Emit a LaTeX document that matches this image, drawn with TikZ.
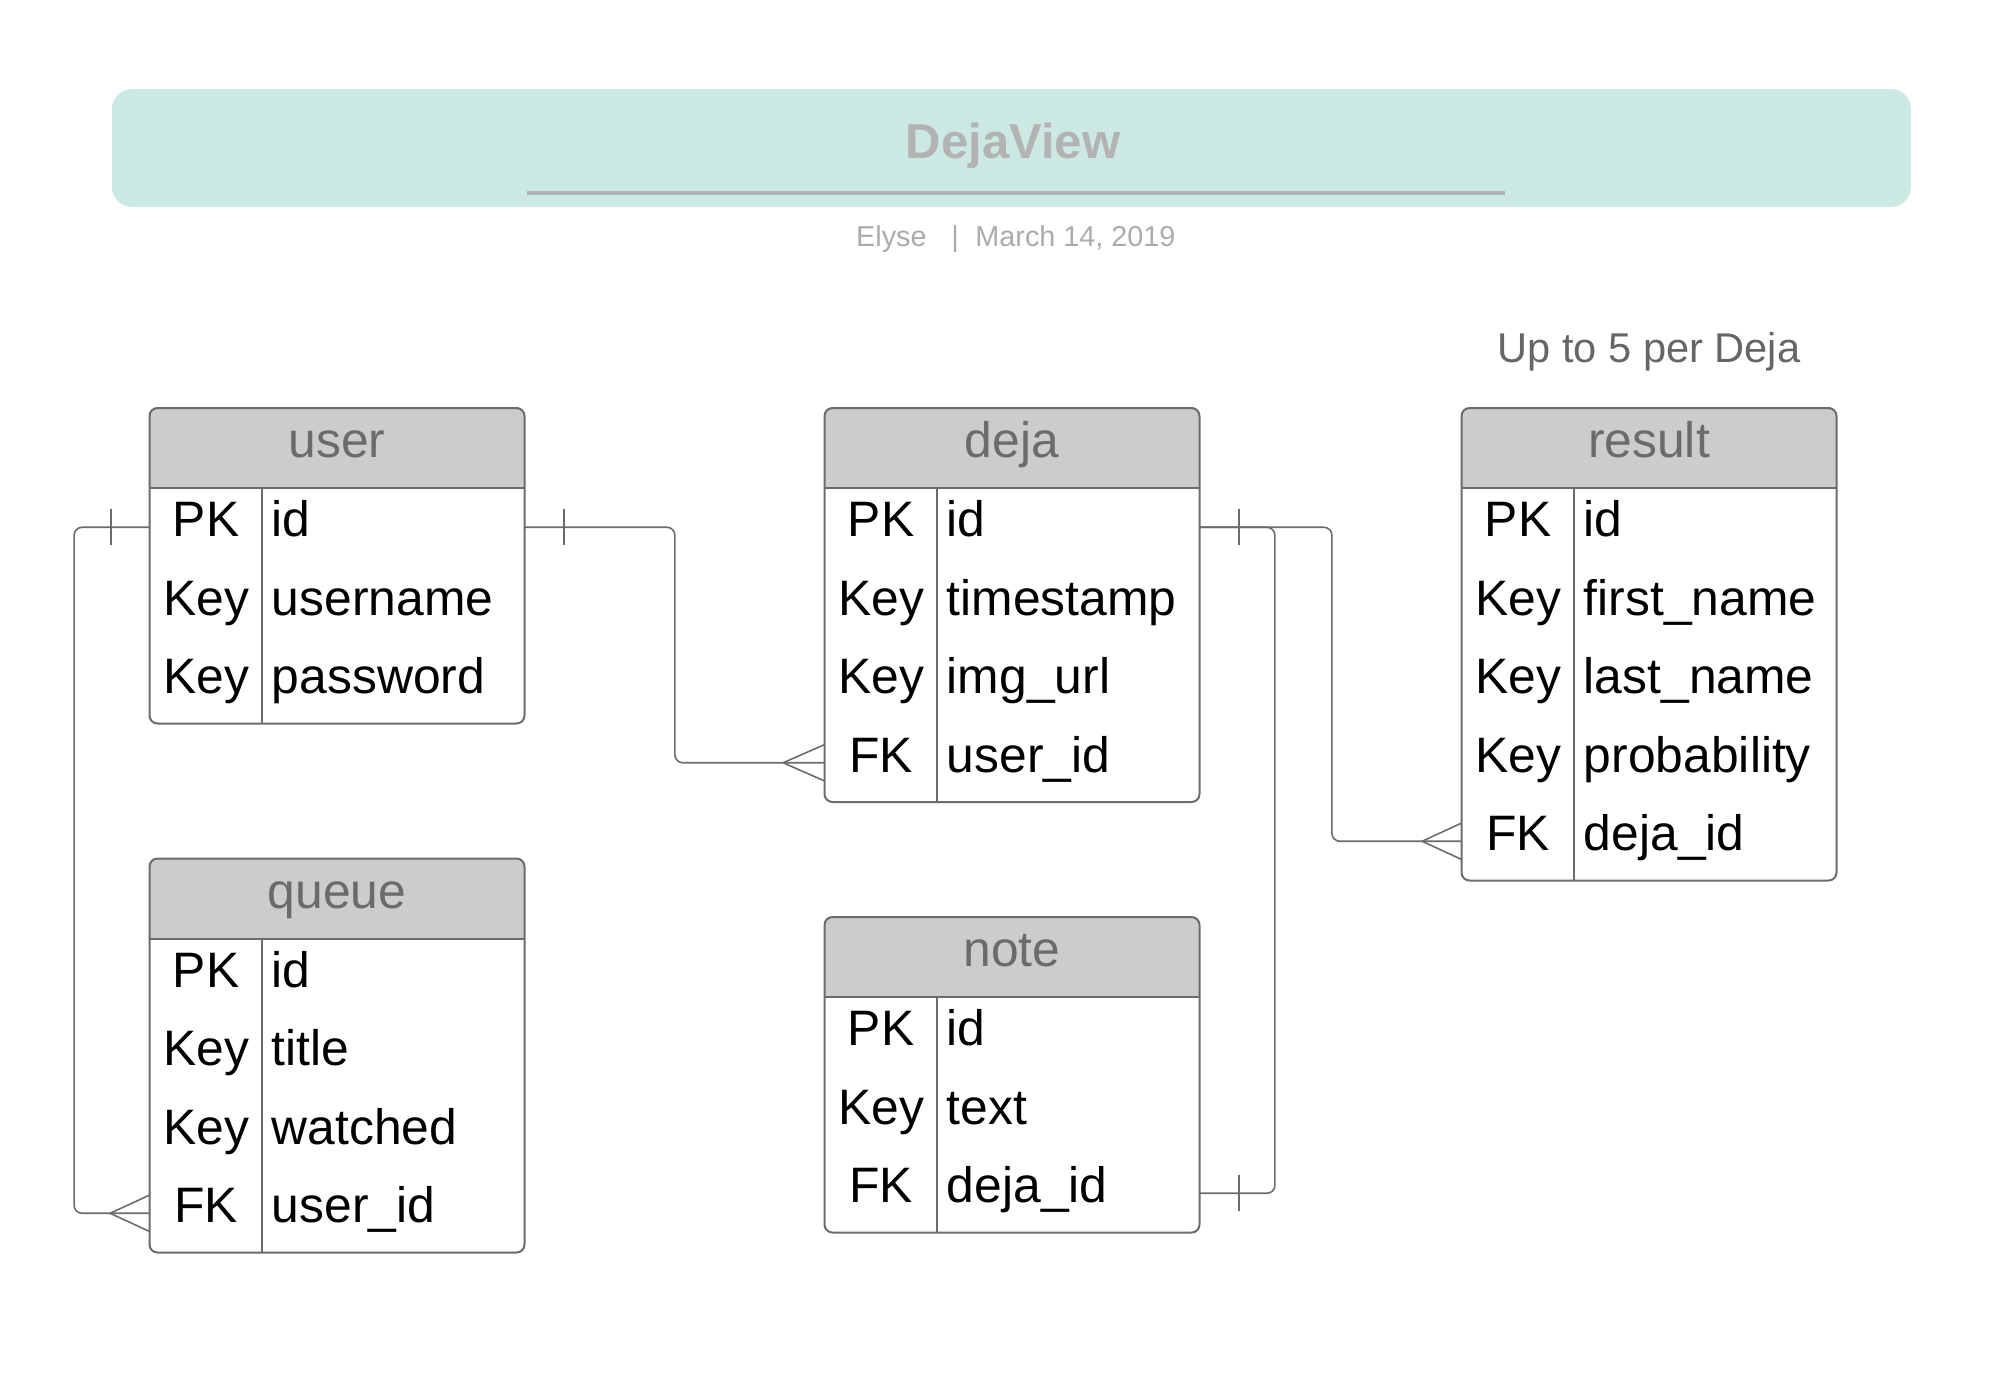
\documentclass[tikz,border=0pt]{standalone}
\usepackage{fontspec}
\setmainfont{Liberation Sans}
\usetikzlibrary{calc}
\definecolor{band}{HTML}{CBE9E2}
\definecolor{hdr}{HTML}{CCCCCC}
\definecolor{edge}{HTML}{6B6B6B}
\definecolor{titlegray}{HTML}{B3B3B3}
\definecolor{subgray}{HTML}{ABABAB}
\definecolor{notegray}{HTML}{666666}
\tikzset{
  tbl/.style={draw=edge, line width=1pt, rounded corners=4pt},
  tblline/.style={draw=edge, line width=1pt},
  conn/.style={draw=edge, line width=0.8pt},
  rowbox/.style={minimum width=187.5pt, minimum height=39.25pt, inner sep=0pt, draw=none},
  keytxt/.style={anchor=base, inner sep=0pt, font=\fontsize{24.9}{29}\selectfont, text=black},
  valtxt/.style={anchor=base west, inner sep=0pt, font=\fontsize{24.9}{29}\selectfont, text=black},
  hdrtxt/.style={anchor=base, inner sep=0pt, font=\fontsize{24.9}{29}\selectfont, text=edge},
}
\newcommand{\ertab}[5]{%
  \foreach [count=\i] \k/\v in {#5} {
    \pgfmathsetmacro{\rc}{#3+80+(\i-0.5)*78.5}
    \node[rowbox] (#1-\i) at (#2+187.5,\rc) {};
    \node[keytxt] (#1-\i-k) at (#2+56.5,\rc+9.5) {\k};
    \node[valtxt] (#1-\i-v) at (#2+122,\rc+9.5) {\v};
    \xdef\ertabn{\i}
  }
  \begin{scope}
    \clip[rounded corners=4pt] (#2,#3) rectangle ++(375,{80+\ertabn*78.5});
    \fill[hdr] (#2,#3) rectangle ++(375,80);
  \end{scope}
  \draw[tbl] (#2,#3) rectangle ++(375,{80+\ertabn*78.5});
  \draw[tblline] (#2,#3+80) -- ++(375,0);
  \draw[tblline] (#2+112.5,#3+80) -- ++(0,{\ertabn*78.5});
  \node[hdrtxt] (#1-h) at (#2+187.5,#3+49.5) {#4};
}
\begin{document}
\begin{tikzpicture}[x=0.5pt,y=-0.5pt]
\useasboundingbox (0,0) rectangle (1995,1394);
% title band
\fill[band, rounded corners=10pt] (112,89) rectangle (1911,207);
\node[anchor=base, inner sep=0pt, font=\bfseries\fontsize{24.5}{29}\selectfont, text=titlegray] (title) at (1013,158) {DejaView};
\fill[titlegray] (527,191) rectangle (1505,195);
\node[anchor=base east, inner sep=0pt, font=\fontsize{14.4}{17}\selectfont, text=subgray] (author) at (927,246) {Elyse};
\node[anchor=base, inner sep=0pt, font=\fontsize{14.4}{17}\selectfont, text=subgray] (sep) at (955,246) {|};
\node[anchor=base west, inner sep=0pt, font=\fontsize{14.4}{17}\selectfont, text=subgray] (date) at (975,246) {March 14, 2019};
\node[anchor=base west, inner sep=0pt, font=\fontsize{20.8}{25}\selectfont, text=notegray] (upto) at (1497,362) {Up to 5 per Deja};
% tables
\ertab{user}{149.5}{408}{user}{PK/id, Key/username, Key/password}
\ertab{deja}{824.5}{408}{deja}{PK/id, Key/timestamp, Key/img\_url, FK/user\_id}
\ertab{result}{1461.5}{408}{result}{PK/id, Key/first\_name, Key/last\_name, Key/probability, FK/deja\_id}
\ertab{queue}{149.5}{858.5}{queue}{PK/id, Key/title, Key/watched, FK/user\_id}
\ertab{note}{824.5}{917}{note}{PK/id, Key/text, FK/deja\_id}
% connectors
% user -> queue
\draw[conn, rounded corners=4pt] (user-1.west) -- ++(-75,0) |- (queue-4.west);
\draw[conn] ($(user-1.west)+(-38,-18)$) -- ++(0,36);
\draw[conn] ($(queue-4.west)+(-39,0)$) -- ($(queue-4.west)+(0,-18)$);
\draw[conn] ($(queue-4.west)+(-39,0)$) -- ($(queue-4.west)+(0,18)$);
% user -> deja
\draw[conn, rounded corners=4pt] (user-1.east) -- ++(150,0) |- (deja-4.west);
\draw[conn] ($(user-1.east)+(39,-18)$) -- ++(0,36);
\draw[conn] ($(deja-4.west)+(-41,0)$) -- ($(deja-4.west)+(0,-18)$);
\draw[conn] ($(deja-4.west)+(-41,0)$) -- ($(deja-4.west)+(0,18)$);
% deja -> note
\draw[conn, rounded corners=4pt] (deja-1.east) -- ++(75,0) |- (note-3.east);
\draw[conn] ($(deja-1.east)+(39,-18)$) -- ++(0,36);
\draw[conn] ($(note-3.east)+(39,-18)$) -- ++(0,36);
% deja -> result
\draw[conn, rounded corners=4pt] (deja-1.east) -- ++(132,0) |- (result-5.west);
\draw[conn] ($(result-5.west)+(-39,0)$) -- ($(result-5.west)+(0,-18)$);
\draw[conn] ($(result-5.west)+(-39,0)$) -- ($(result-5.west)+(0,18)$);
\end{tikzpicture}
\end{document}
